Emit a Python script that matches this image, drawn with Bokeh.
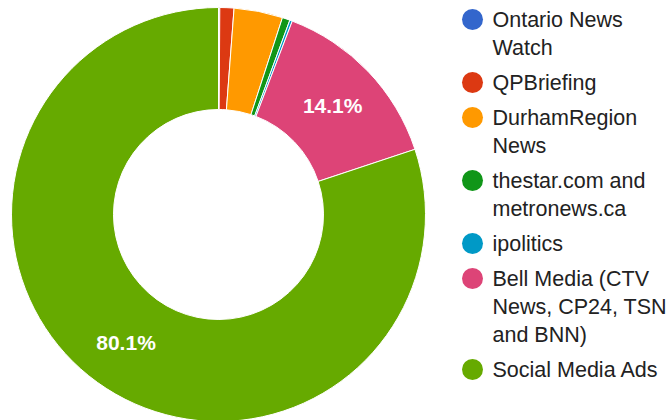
import math
from bokeh.plotting import figure
from bokeh.models import Range1d
from bokeh.core.properties import value
from bokeh.embed import file_html
from bokeh.resources import INLINE

# ---- data ----
sources = ["Ontario News\nWatch", "QPBriefing", "DurhamRegion\nNews",
           "thestar.com and\nmetronews.ca", "ipolitics",
           "Bell Media (CTV\nNews, CP24, TSN\nand BNN)", "Social Media Ads"]
shares = [0.1, 1.1, 3.8, 0.6, 0.2, 14.1, 80.1]
colors = ["#3366cc", "#dc3912", "#ff9900", "#109618", "#0099c6", "#dd4477", "#66aa00"]
show_label = [False, False, False, False, False, True, True]

W, H = 670, 420
CX, CY = 218, 214          # screen coords of the donut centre
R_OUT, R_IN = 207, 105

def sy(y):  # screen y -> data y
    return H - y

p = figure(width=W, height=H, output_backend="svg", toolbar_location=None,
           x_range=Range1d(0, W), y_range=Range1d(0, H), min_border=0)
p.axis.visible = False
p.grid.visible = False
p.outline_line_color = None
p.background_fill_color = "white"
p.border_fill_color = "white"

total = sum(shares)
cum = 0.0
starts, ends, lx, ly, ltxt = [], [], [], [], []
for s, show in zip(shares, show_label):
    a0 = math.pi / 2 - 2 * math.pi * cum / total
    a1 = math.pi / 2 - 2 * math.pi * (cum + s) / total
    starts.append(a0)
    ends.append(a1)
    if show:
        mid = (a0 + a1) / 2
        r = (R_OUT + R_IN) / 2 + 2
        lx.append(CX + r * math.cos(mid))
        ly.append(sy(CY) + r * math.sin(mid))
        ltxt.append(f"{s:.1f}%")
    cum += s

p.annular_wedge(x=[CX] * len(shares), y=[sy(CY)] * len(shares),
                inner_radius=R_IN, outer_radius=R_OUT,
                start_angle=starts, end_angle=ends, direction="clock",
                fill_color=colors, line_color="white", line_width=1)

p.text(x=lx, y=ly, text=ltxt, text_color="white", text_align="center",
       text_baseline="middle", text_font=value("Liberation Sans"),
       text_font_size="21px", text_font_style="bold")

# ---- legend ----
LINE_H, GAP = 28, 7
y = 19
cx_leg, tx_leg = 472, 492
cxs, cys, tx, ty, tt = [], [], [], [], []
for name in sources:
    lines = name.split("\n")
    cxs.append(cx_leg)
    cys.append(sy(y))
    for k, line in enumerate(lines):
        tx.append(tx_leg)
        ty.append(sy(y + k * LINE_H))
        tt.append(line)
    y += len(lines) * LINE_H + GAP

p.scatter(x=cxs, y=cys, size=21, marker="circle", fill_color=colors, line_color=None)
p.text(x=tx, y=ty, text=tt, text_color="#222222", text_align="left",
       text_baseline="middle", text_font=value("Liberation Sans"),
       text_font_size="21.5px")

open("out.html", "w").write(file_html(p, INLINE))
